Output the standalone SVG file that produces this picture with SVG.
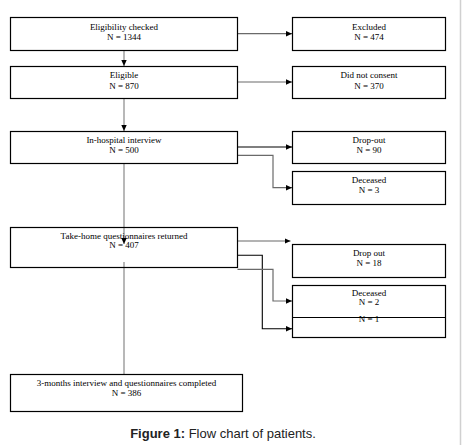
<svg xmlns="http://www.w3.org/2000/svg" width="465" height="445" viewBox="0 0 465 445">
<style>
.box{fill:#fff;stroke:#000;stroke-width:1.2}
.t{font-family:"Liberation Serif","Times New Roman",serif;font-size:9px;fill:#000;text-anchor:middle}
.g{fill:none;stroke:#9a9a9a;stroke-width:1.4}
.dg{fill:none;stroke:#6a6a6a;stroke-width:1.2}
.k{fill:none;stroke:#000;stroke-width:1.1}
</style>
<defs>
<marker id="ah" viewBox="0 0 6 6" refX="6" refY="3" markerWidth="6" markerHeight="6" markerUnits="userSpaceOnUse" orient="auto">
<path d="M0,0.3 L6,3 L0,5.7 z" fill="#000"/>
</marker>
</defs>
<rect width="465" height="445" fill="#fff"/>
<line x1="460.5" y1="0" x2="460.5" y2="445" stroke="#d0d0d0" stroke-width="1.5"/>
<g id="connectors">
<line class="g" x1="124" y1="50.5" x2="124" y2="66" marker-end="url(#ah)"/>
<line class="g" x1="124" y1="98.5" x2="124" y2="131" marker-end="url(#ah)"/>
<line class="g" x1="124" y1="163.5" x2="124" y2="244" marker-end="url(#ah)"/>
<line class="g" x1="124" y1="262" x2="124" y2="374"/>
<line class="dg" x1="237.5" y1="33.7" x2="292" y2="33.7" marker-end="url(#ah)"/>
<line class="dg" x1="237.5" y1="82" x2="292" y2="82" marker-end="url(#ah)"/>
<line class="k" x1="237.5" y1="147" x2="292" y2="147" marker-end="url(#ah)"/>
<polyline class="dg" points="237.5,155.3 273,155.3 273,187.7 292,187.7" marker-end="url(#ah)"/>
<line class="g" x1="237.5" y1="241" x2="290.5" y2="241" marker-end="url(#ah)"/>
<polyline class="k" points="237.5,255.3 262.3,255.3 262.3,328.7 292,328.7" marker-end="url(#ah)"/>
<polyline class="dg" points="237.5,269.3 273,269.3 273,301 292,301" marker-end="url(#ah)"/>
</g>
<g id="eligibility-checked">
<rect class="box" x="10.5" y="17.5" width="227" height="33"/>
<text class="t" x="124" y="30">Eligibility checked</text>
<text class="t" x="124" y="39.5">N = 1344</text>
</g>
<g id="excluded">
<rect class="box" x="292.5" y="17.5" width="153" height="33"/>
<text class="t" x="369" y="30">Excluded</text>
<text class="t" x="369" y="39.5">N = 474</text>
</g>
<g id="eligible">
<rect class="box" x="10.5" y="66.5" width="227" height="32"/>
<text class="t" x="124" y="78">Eligible</text>
<text class="t" x="124" y="88.5">N = 870</text>
</g>
<g id="did-not-consent">
<rect class="box" x="292.5" y="66.5" width="153" height="32"/>
<text class="t" x="369" y="78">Did not consent</text>
<text class="t" x="369" y="88.5">N = 370</text>
</g>
<g id="in-hospital">
<rect class="box" x="10.5" y="131.5" width="227" height="32"/>
<text class="t" x="124" y="142.7">In-hospital interview</text>
<text class="t" x="124" y="153.3">N = 500</text>
</g>
<g id="drop-out-1">
<rect class="box" x="292.5" y="131.5" width="153" height="32"/>
<text class="t" x="369" y="142.7">Drop-out</text>
<text class="t" x="369" y="153.3">N = 90</text>
</g>
<g id="deceased-1">
<rect class="box" x="292.5" y="171.5" width="153" height="33"/>
<text class="t" x="369" y="183.3">Deceased</text>
<text class="t" x="369" y="193.3">N = 3</text>
</g>
<g id="take-home">
<rect class="box" x="10.5" y="227.5" width="227" height="40" fill="none" style="fill:none"/>
<text class="t" x="124" y="238.7">Take-home questionnaires returned</text>
<text class="t" x="124" y="247.7">N = 407</text>
</g>
<g id="drop-out-2">
<rect class="box" x="292.5" y="244.5" width="153" height="33"/>
<text class="t" x="369" y="256">Drop out</text>
<text class="t" x="369" y="265.7">N = 18</text>
</g>
<g id="deceased-2">
<rect class="box" x="292.5" y="285.5" width="153" height="52"/>
<text class="t" x="369" y="296.3">Deceased</text>
<text class="t" x="369" y="305.3">N = 2</text>
<text class="t" x="369" y="321.5">N = 1</text>
<line x1="292.5" y1="317.5" x2="445.5" y2="317.5" stroke="#000" stroke-width="1.2"/>
</g>
<g id="three-months">
<rect class="box" x="10.5" y="374.5" width="232" height="37"/>
<text class="t" x="126.5" y="385.7">3-months interview and questionnaires completed</text>
<text class="t" x="126.5" y="395.7">N = 386</text>
</g>
<text x="223" y="438" font-family="Liberation Sans, Arial, sans-serif" font-size="13" fill="#222" text-anchor="middle"><tspan font-weight="bold">Figure 1:</tspan> Flow chart of patients.</text>
</svg>
